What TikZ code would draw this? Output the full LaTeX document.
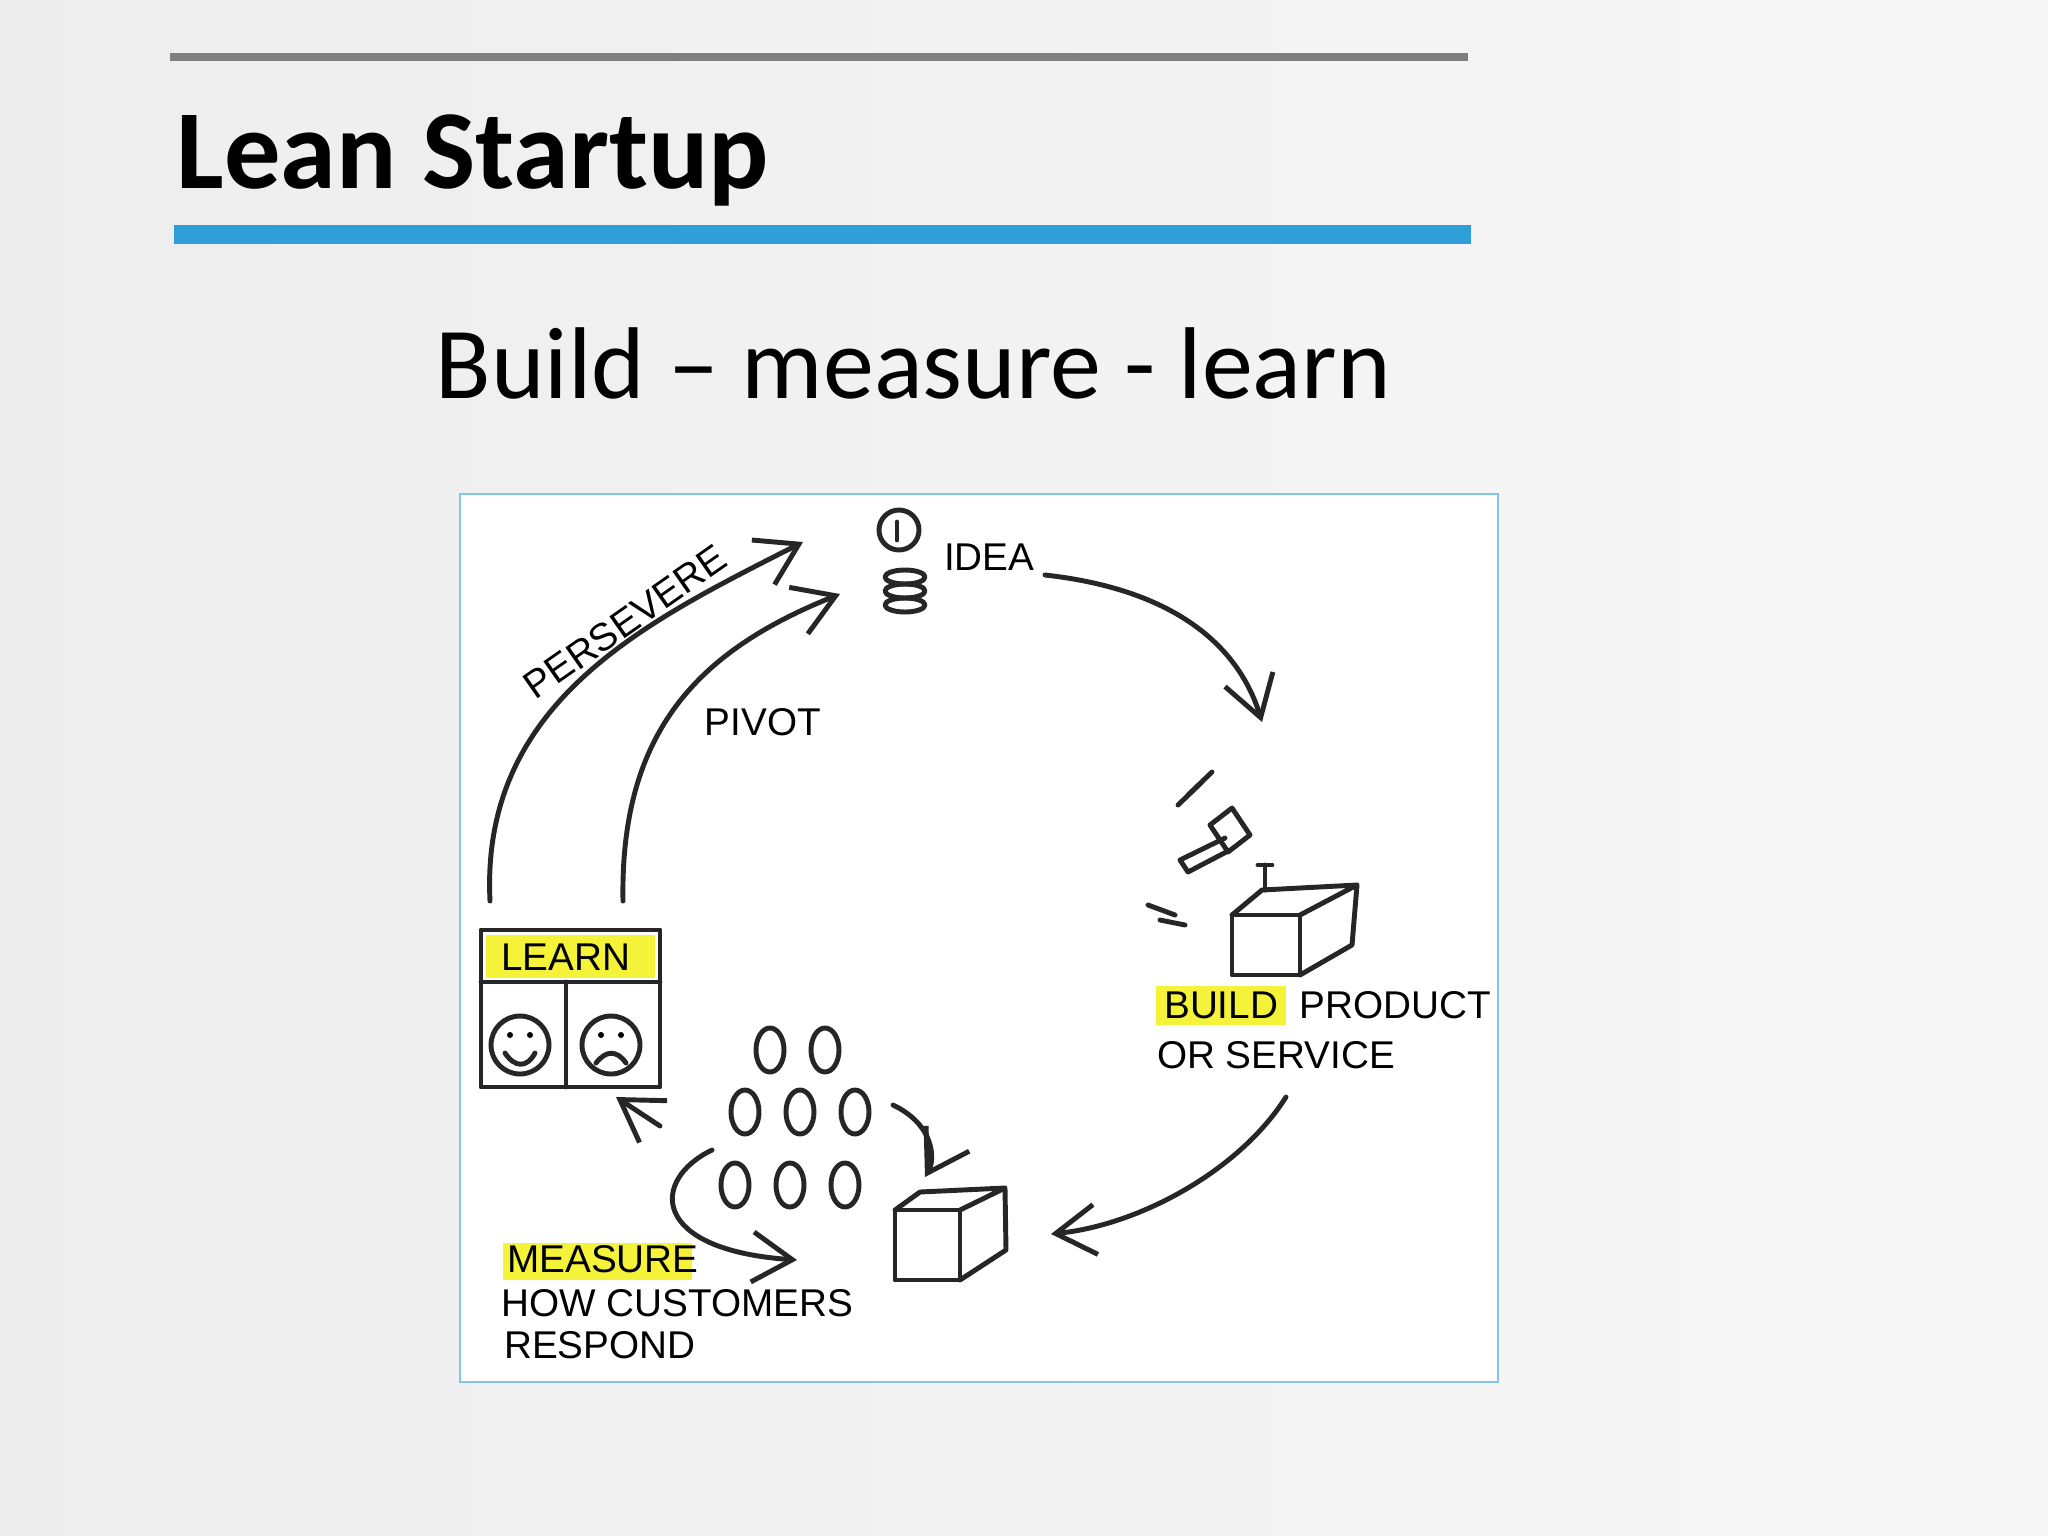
\documentclass[tikz,border=0pt]{standalone}
\usepackage{fontspec}
\setmainfont{Carlito}
\setsansfont{Liberation Sans}
\usetikzlibrary{arrows.meta}
\definecolor{bluebar}{HTML}{2E9FD8}
\definecolor{hl}{HTML}{F5F23A}
\tikzset{
  ink/.style={line width=1.4pt,black!85,line cap=round,line join=round},
  arr/.style={ink,-{Straight Barb[length=4mm,width=5mm]}},
  lbl/.style={font=\sffamily\fontsize{11}{12}\selectfont,inner sep=1pt,anchor=base west},
  hlbox/.style={fill=hl,draw=none}
}
\begin{document}
\begin{tikzpicture}[x=0.01cm,y=-0.01cm]
\useasboundingbox (0,0) rectangle (2048,1536);
\shade[left color=black!7,right color=white!97!black] (0,0) rectangle (2048,1536);
\draw[draw=black!50, line width=0.8mm] (170,57) -- (1468,57);
\fill[bluebar] (174,225) rectangle (1471,244);
\node[anchor=base west,inner sep=0,font=\bfseries\fontsize{32}{36}\selectfont] (title) at (176,188) {Lean Startup};
\node[anchor=base west,inner sep=0,font=\fontsize{29}{34}\selectfont] (sub) at (435,398) {Build – measure - learn};
% frame
\draw[fill=white,draw=bluebar!60,line width=0.8pt] (460,494) rectangle (1498,1382);
% bulb
\draw[ink] (899,530) circle (20);
\draw[ink] (897,522) -- (897,540);
\foreach \y in {577,591,605} \draw[ink] (905,\y) ellipse (20 and 7);
\node[lbl] (idea) at (940,570) {IDEA};
\draw[arr] (1045,575) .. controls (1180,590) and (1240,650) .. (1262,722);
% hammer & box
\draw[ink] (1180,860) -- (1225,838) (1188,872) -- (1230,850) (1180,860) -- (1188,872);
\draw[ink] (1210,825) -- (1232,808) -- (1250,835) -- (1228,852) -- cycle;
\draw[ink] (1188,795) -- (1212,772) (1178,805) -- (1202,782);
\draw[ink] (1148,905) -- (1175,915) (1160,920) -- (1185,925);
\draw[ink] (1265,865) -- (1265,890) (1258,865) -- (1272,865);
\draw[ink] (1232,915) rectangle (1300,975);
\draw[ink] (1232,915) -- (1262,890) -- (1357,885) -- (1352,945) -- (1300,975) (1300,915) -- (1357,885);
\fill[hlbox] (1156,986) rectangle (1286,1025);
\node[lbl] (build) at (1160,1018) {BUILD \ PRODUCT};
\node[lbl] (serv) at (1153,1068) {OR SERVICE};
\draw[arr] (1286,1097) .. controls (1240,1170) and (1140,1225) .. (1051,1234);
% box 2
\draw[ink] (895,1210) rectangle (960,1280);
\draw[ink] (895,1210) -- (920,1192) -- (1005,1188) -- (1006,1250) -- (960,1280) (960,1210) -- (1005,1188);
% people
\foreach \x/\y in {770/1050,825/1050,745/1112,800/1112,855/1112,735/1185,790/1185,845/1185}
  \draw[ink] (\x,\y) ellipse (14 and 22);
\draw[arr] (893,1105) .. controls (935,1125) and (935,1160) .. (925,1177);
\draw[arr] (712,1150) .. controls (650,1180) and (650,1250) .. (797,1260);
% measure text
\fill[hlbox] (503,1243) rectangle (692,1280);
\node[lbl] (meas) at (503,1272) {MEASURE};
\node[lbl] (how) at (497,1316) {HOW CUSTOMERS};
\node[lbl] (resp) at (500,1358) {RESPOND};
\draw[arr] (660,1126) -- (616,1097);
% learn
\fill[hlbox] (486,935) rectangle (655,978);
\draw[ink] (481,930) rectangle (660,1087);
\draw[ink] (481,982) -- (660,982) (566,982) -- (566,1087);
\node[lbl] (learn) at (497,970) {LEARN};
\draw[ink] (520,1045) circle (29);
\draw[ink] (611,1045) circle (29);
\fill (510,1035) circle (3) (530,1035) circle (3) (601,1035) circle (3) (621,1035) circle (3);
\draw[ink] (505,1053) .. controls (515,1068) and (527,1068) .. (535,1053);
\draw[ink] (596,1063) .. controls (606,1050) and (617,1050) .. (626,1063);
% persevere, pivot
\draw[arr] (490,901) .. controls (480,700) and (650,620) .. (803,542);
\node[lbl,anchor=center,rotate=35] (pers) at (625,622) {PERSEVERE};
\draw[arr] (623,901) .. controls (620,730) and (700,650) .. (840,594);
\node[lbl,anchor=center] (pivot) at (763,722) {PIVOT};
\end{tikzpicture}
\end{document}
